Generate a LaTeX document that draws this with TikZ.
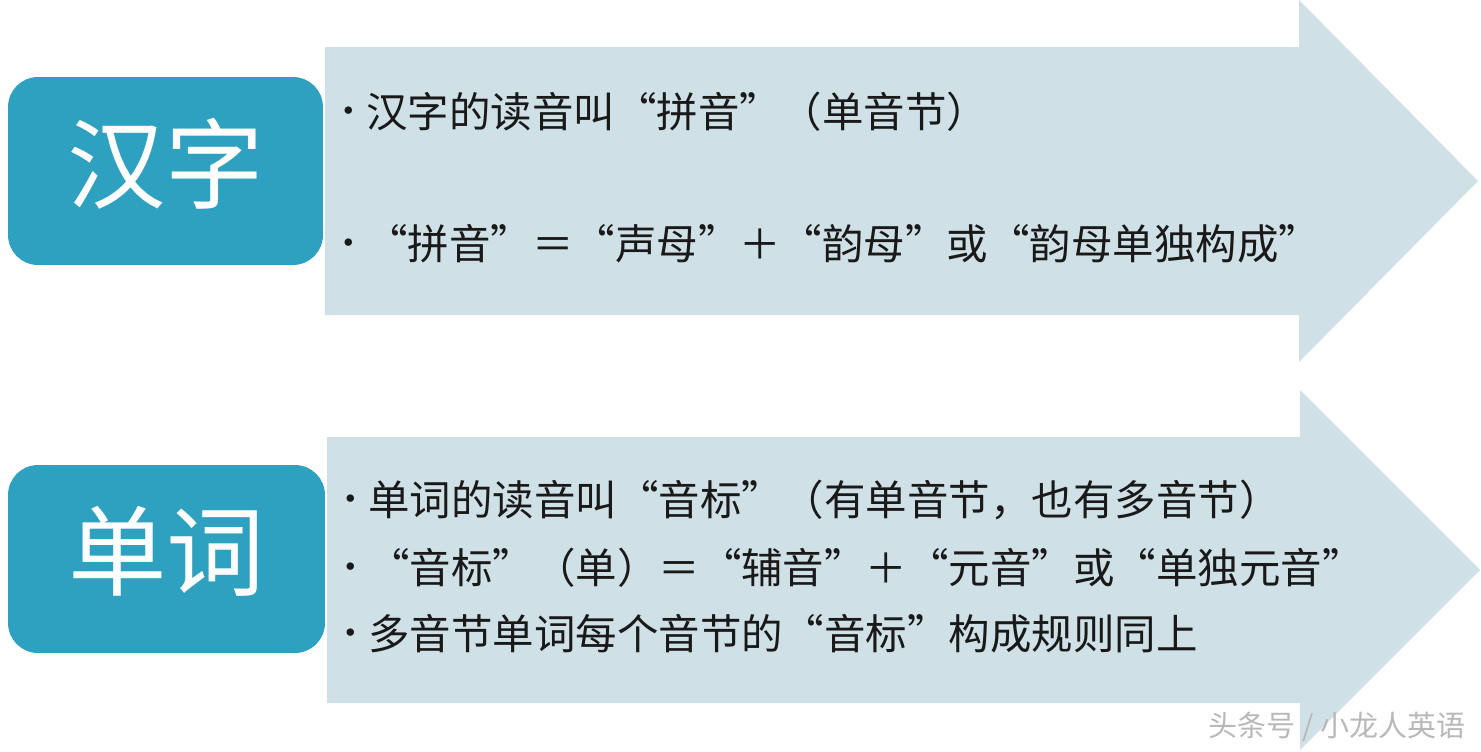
\documentclass[tikz,border=0pt]{standalone}
\usepackage{fontspec}
\usepackage{tikz}
\usetikzlibrary{positioning}
\newfontfamily\cjk{Noto Sans CJK SC}
\definecolor{pyteal}{HTML}{2EA0C0}
\definecolor{pymist}{HTML}{D0E0E7}
\definecolor{pymark}{HTML}{B8B8B8}
\newcommand{\blt}{\makebox[0.6cm][l]{\raisebox{4.6pt}{\normalfont\fontsize{19pt}{19pt}\selectfont\textbullet}}}

\begin{document}
\begin{tikzpicture}[x=0.02cm, y=-0.02cm,
  headbox/.style={fill=pyteal, rounded corners=0.6cm, minimum width=6.3cm,
    minimum height=3.76cm},
  headtext/.style={text=white, inner sep=0pt, font=\cjk\fontsize{56pt}{56pt}\selectfont},
  itemline/.style={anchor=west, inner sep=0pt, text=black!90,
    font=\cjk\fontsize{23.6pt}{23.6pt}\selectfont}]
  \useasboundingbox (0,0) rectangle (1481,751);

  % Upper arrow: Chinese characters
  \fill[pymist] (325,47) -- (1299,47) -- (1299,0) -- (1478,181) -- (1299,362)
    -- (1299,315) -- (325,315) -- cycle;
  \node[headbox] (hanzi) at (165.5,171) {};
  \node[headtext] (hanzit) at ([yshift=0.15cm]hanzi.center) {汉字};
  \node[itemline] (hzone) at (336,112) {\blt 汉字的读音叫“拼音”（单音节）};
  \node[itemline] (hztwo) at (336,244) {\blt “拼音”＝“声母”＋“韵母”或“韵母单独构成”};

  % Lower arrow: English words
  \fill[pymist] (327,437) -- (1300,437) -- (1300,390) -- (1480,570) -- (1300,750)
    -- (1300,703) -- (327,703) -- cycle;
  \node[headbox, minimum width=6.34cm] (danci) at (166.5,559) {};
  \node[headtext] (dancit) at ([yshift=0.15cm]danci.center) {单词};
  \node[itemline] (dcone) at (338,500) {\blt 单词的读音叫“音标”（有单音节，也有多音节）};
  \node[itemline] (dctwo) at (338,568) {\blt “音标”（单）＝“辅音”＋“元音”或“单独元音”};
  \node[itemline] (dcthree) at (338,634) {\blt 多音节单词每个音节的“音标”构成规则同上};

  % watermark
  \node[font=\cjk\fontsize{16.5pt}{16.5pt}\selectfont, text=pymark] (mark) at (1337,727) {头条号 / 小龙人英语};
\end{tikzpicture}
\end{document}
